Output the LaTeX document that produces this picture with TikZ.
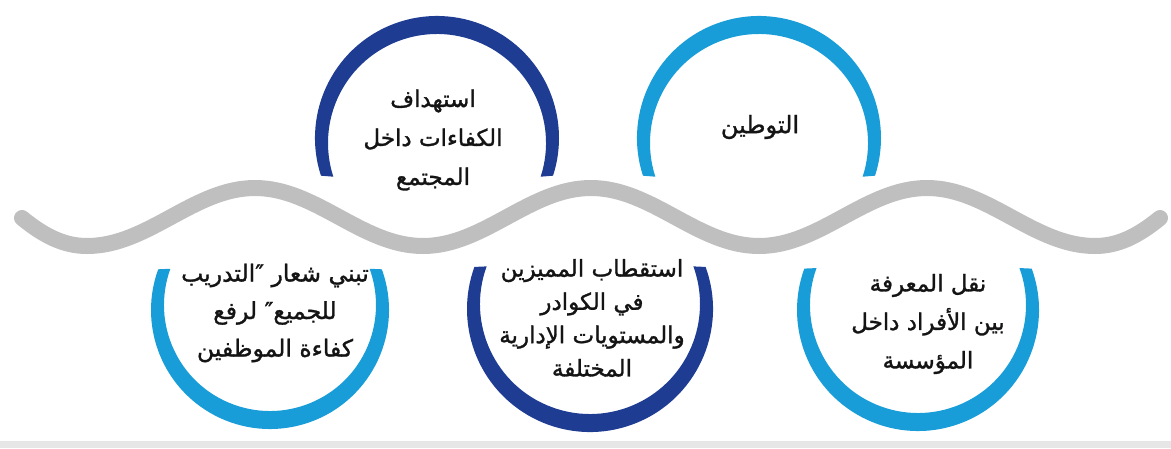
\documentclass[tikz,border=0pt]{standalone}
\usepackage{fontspec}
\usetikzlibrary{calc}
\TeXXeTstate=1
\newfontfamily\arabicfont[Script=Arabic,FakeBold=1.3]{DejaVu Sans}
\newcommand{\arl}[1]{\beginR #1\endR}
\definecolor{darkb}{HTML}{1F3C93}
\definecolor{lightb}{HTML}{189DD8}
\definecolor{wavegray}{HTML}{BFBFBF}
\definecolor{framegray}{HTML}{E6E6E6}
\tikzset{
  wave/.style={line width=16pt, line cap=round, color=wavegray},
  lbl/.style={align=center, text=black!92, inner sep=0pt},
}
% top ring: colour, cx, cy, R
\newcommand{\topring}[4]{%
  \fill[#1] ($(#2,#3)+(162:#4)$) arc[start angle=162,end angle=378,radius=#4]
    -- ($(#2,#3+5)+(378:#4-13)$) arc[start angle=378,end angle=162,radius=#4-13] -- cycle;}
\newcommand{\botring}[4]{%
  \fill[#1] ($(#2,#3)+(-20:#4)$) arc[start angle=-20,end angle=200,radius=#4]
    -- ($(#2,#3-5)+(200:#4-13)$) arc[start angle=200,end angle=-20,radius=#4-13] -- cycle;}
\begin{document}
\begin{tikzpicture}[x=1pt,y=-1pt]
\useasboundingbox (0,0) rectangle (1171,448);
\fill[framegray] (0,441) rectangle (1171,448);
% wave
\coordinate (wl) at (22,218);
\coordinate (t1) at (87,246);
\coordinate (c1) at (255,188);
\coordinate (t2) at (423,246);
\coordinate (c2) at (591,188);
\coordinate (t3) at (759,246);
\coordinate (c3) at (927,188);
\coordinate (t4) at (1095,246);
\coordinate (wr) at (1160,218);
\draw[wave] (wl) .. controls (44,236) and (64,246) .. (t1)
  .. controls (148,246) and (194,188) .. (c1)
  .. controls (316,188) and (362,246) .. (t2)
  .. controls (484,246) and (530,188) .. (c2)
  .. controls (652,188) and (698,246) .. (t3)
  .. controls (820,246) and (866,188) .. (c3)
  .. controls (988,188) and (1034,246) .. (t4)
  .. controls (1118,246) and (1138,236) .. (wr);
% rings
\topring{darkb}{437}{138}{122}
\topring{lightb}{759}{138}{122}
\botring{lightb}{270}{310}{119}
\botring{darkb}{590}{309}{123}
\botring{lightb}{918}{310}{121}
% labels
\node[lbl, font={\arabicfont\fontsize{23}{39}\selectfont}] (tl) at (433,140)
  {\arl{استهداف}\\\arl{الكفاءات داخل}\\\arl{المجتمع}};
\node[lbl, font={\arabicfont\fontsize{24}{39}\selectfont}] (tr) at (760,127)
  {\arl{التوطين}};
\node[lbl, font={\arabicfont\fontsize{23.5}{37.5}\selectfont}] (bl) at (275,313)
  {\arl{تبني شعار ″التدريب}\\\arl{للجميع″ لرفع}\\\arl{كفاءة الموظفين}};
\node[lbl, font={\arabicfont\fontsize{23}{33.3}\selectfont}] (bm) at (592,318)
  {\arl{استقطاب المميزين}\\\arl{في الكوادر}\\\arl{والمستويات الإدارية}\\\arl{المختلفة}};
\node[lbl, font={\arabicfont\fontsize{23}{38.5}\selectfont}] (br) at (928,324)
  {\arl{نقل المعرفة}\\\arl{بين الأفراد داخل}\\\arl{المؤسسة}};
\end{tikzpicture}
\end{document}
